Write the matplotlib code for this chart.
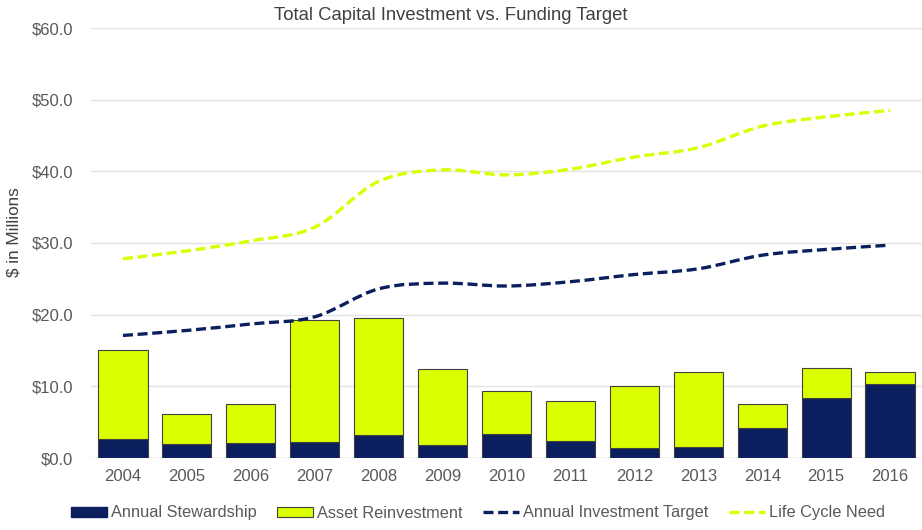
import matplotlib.pyplot as plt
from matplotlib.path import Path
from matplotlib.patches import PathPatch, Patch
from matplotlib.lines import Line2D
from matplotlib.ticker import FuncFormatter

plt.rcParams['font.family'] = ['Liberation Sans', 'DejaVu Sans']

years = ["2004", "2005", "2006", "2007", "2008", "2009", "2010",
         "2011", "2012", "2013", "2014", "2015", "2016"]
stewardship = [2.6, 2.0, 2.1, 2.3, 3.2, 1.8, 3.4, 2.4, 1.35, 1.6, 4.2, 8.4, 10.3]
total_invest = [15.1, 6.1, 7.6, 19.3, 19.6, 12.4, 9.4, 7.9, 10.0, 12.0, 7.6, 12.6, 12.0]
reinvestment = [t - s for t, s in zip(total_invest, stewardship)]
invest_target = [17.1, 17.8, 18.7, 19.7, 23.6, 24.4, 24.0, 24.6, 25.6, 26.4, 28.3, 29.1, 29.7]
life_cycle = [27.8, 28.9, 30.3, 32.2, 38.6, 40.2, 39.5, 40.3, 42.0, 43.3, 46.3, 47.6, 48.5]

NAVY = "#0b1f5e"
LIME = "#dbff00"
GRAY = "#595959"


def smooth_path(xs, ys):
    # Excel-like smoothed line: Catmull-Rom as cubic bezier
    pts = list(zip(xs, ys))
    n = len(pts)
    verts = [pts[0]]
    codes = [Path.MOVETO]
    for i in range(n - 1):
        p0 = pts[i - 1] if i > 0 else pts[i]
        p1 = pts[i]
        p2 = pts[i + 1]
        p3 = pts[i + 2] if i + 2 < n else pts[i + 1]
        c1 = (p1[0] + (p2[0] - p0[0]) / 6, p1[1] + (p2[1] - p0[1]) / 6)
        c2 = (p2[0] - (p3[0] - p1[0]) / 6, p2[1] - (p3[1] - p1[1]) / 6)
        verts += [c1, c2, p2]
        codes += [Path.CURVE4] * 3
    return Path(verts, codes)


fig = plt.figure(figsize=(9.22, 5.3), dpi=100)
ax = fig.add_axes([91 / 922, 1 - 458 / 530, (922 - 91) / 922, (458 - 28) / 530])

x = list(range(len(years)))
w = 0.77
ax.bar(x, stewardship, w, color=NAVY, edgecolor="#404040", linewidth=0.8, zorder=2)
ax.bar(x, reinvestment, w, bottom=stewardship, color=LIME, edgecolor="#404040",
       linewidth=0.8, zorder=2)

dash = (0, (3, 1.4))
ax.add_patch(PathPatch(smooth_path(x, invest_target), fill=False, edgecolor=NAVY,
                       linewidth=2.4, linestyle=dash, zorder=3))
ax.add_patch(PathPatch(smooth_path(x, life_cycle), fill=False, edgecolor=LIME,
                       linewidth=2.4, linestyle=dash, zorder=3))

ax.set_xlim(-0.5, len(years) - 0.5)
ax.set_ylim(0, 60)
ax.set_yticks(range(0, 61, 10))
ax.yaxis.set_major_formatter(FuncFormatter(lambda v, p: f"${v:.1f}"))
ax.set_xticks(x)
ax.set_xticklabels(years)
ax.tick_params(axis="both", length=0, labelsize=12, colors=GRAY, pad=8)
ax.tick_params(axis="y", pad=13)
ax.grid(axis="y", color="#e3e3e3", linewidth=1, zorder=0)
for s in ax.spines.values():
    s.set_visible(False)
ax.axhline(0, color="#d9d9d9", linewidth=1, zorder=1)

fig.text(451 / 922, 1 - 15 / 530, "Total Capital Investment vs. Funding Target",
         ha="center", va="center", fontsize=13.3, color="#404040")
fig.text(14 / 922, 1 - 232 / 530, "$ in Millions", rotation=90, ha="center",
         va="center", fontsize=12.3, color="#404040")

handles = [
    Patch(facecolor=NAVY, edgecolor=NAVY),
    Patch(facecolor=LIME, edgecolor="#404040", linewidth=0.8),
    Line2D([], [], color=NAVY, linewidth=2.4, linestyle=dash),
    Line2D([], [], color=LIME, linewidth=2.4, linestyle=dash),
]
labels = ["Annual Stewardship", "Asset Reinvestment", "Annual Investment Target",
          "Life Cycle Need"]
fig.legend(handles, labels, loc="center", bbox_to_anchor=(478 / 922, 1 - 513 / 530),
           ncol=4, frameon=False, fontsize=11.8, labelcolor=GRAY,
           handlelength=2.2, handleheight=0.6, handletextpad=0.25, columnspacing=1.25)

fig.savefig("out.png", dpi=100)
